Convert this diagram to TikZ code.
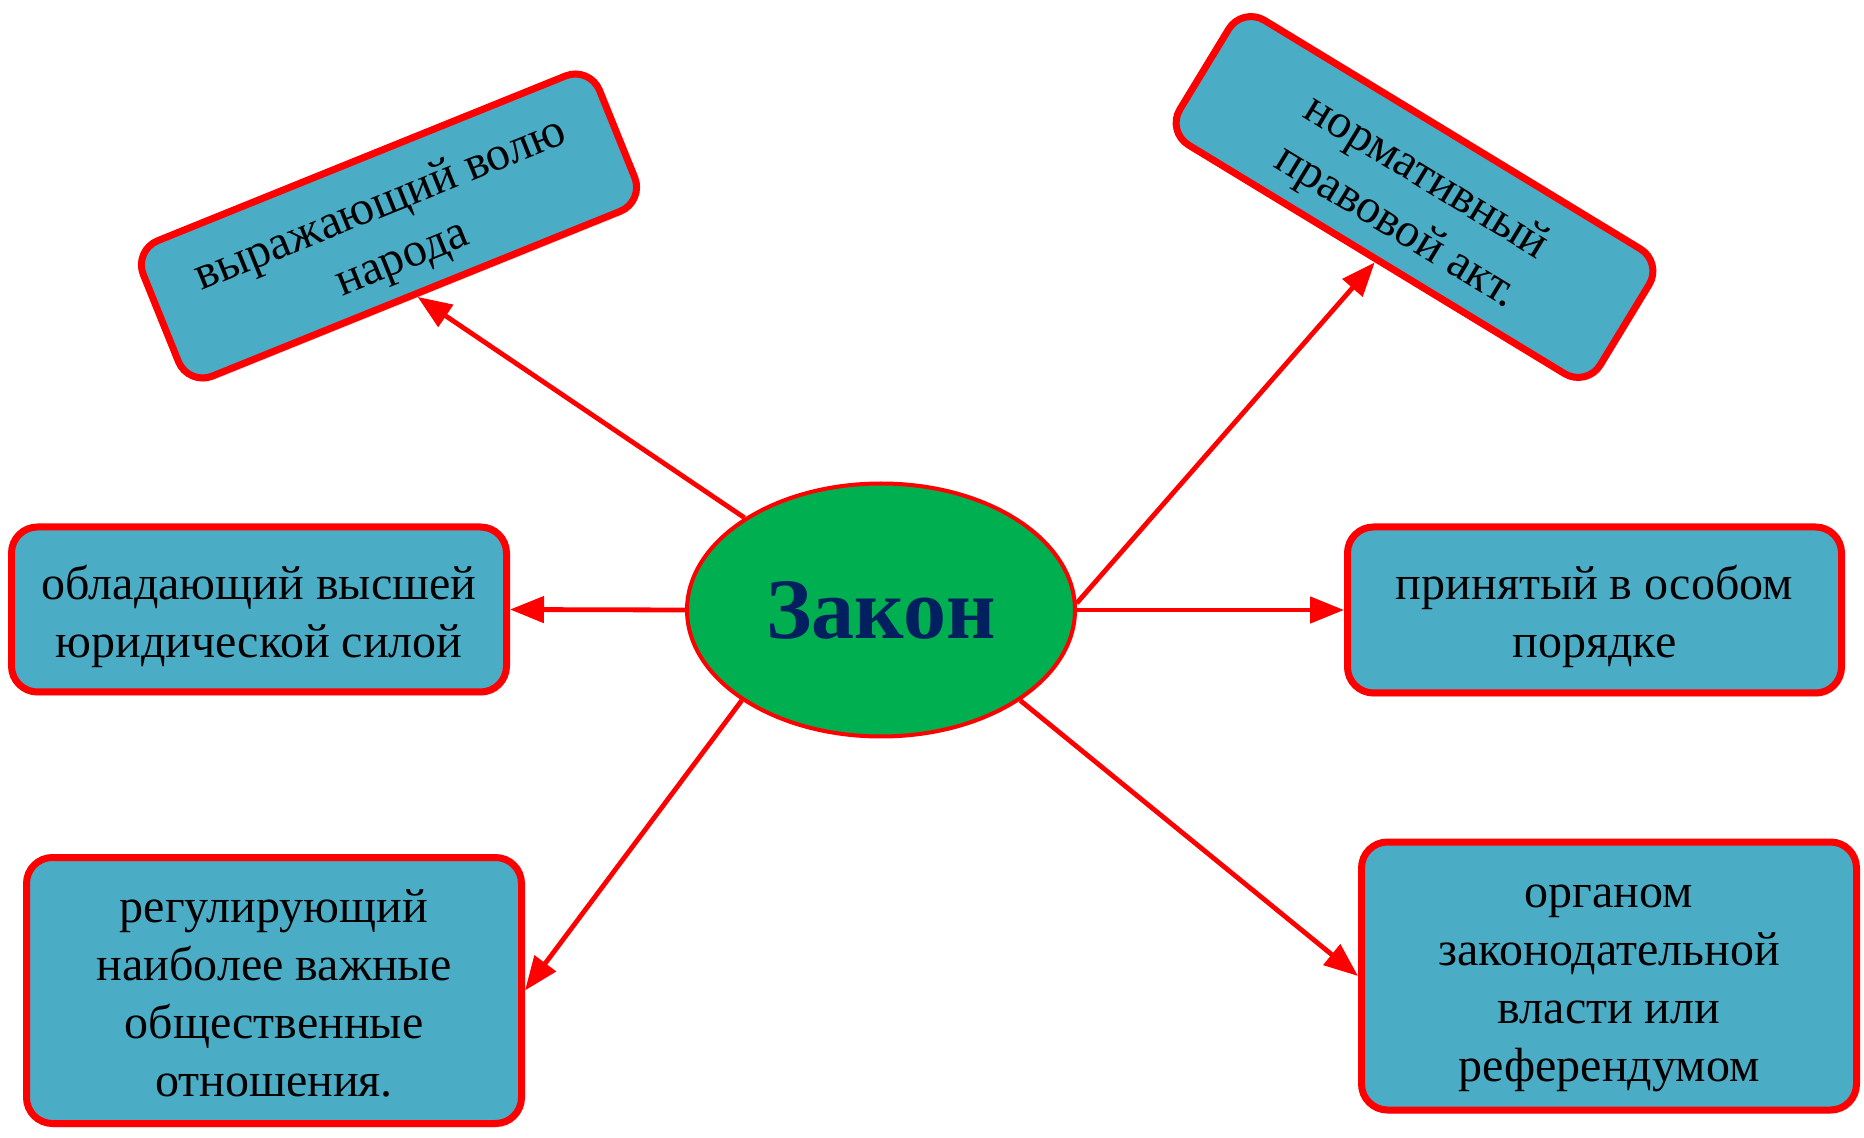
\documentclass[tikz,border=0pt]{standalone}
\usepackage{fontspec}
\setmainfont{Liberation Serif}
\usetikzlibrary{arrows.meta,shadows,shapes.geometric}
\definecolor{boxfill}{HTML}{4BACC6}
\definecolor{ellfill}{HTML}{00B050}
\definecolor{navy}{HTML}{002060}
\newcommand\mytopstrut{\rule{0pt}{27.3pt}}
\begin{document}
\begin{tikzpicture}[x=0.5pt,y=-0.5pt,
  box/.style={draw=red, line width=3.5pt, fill=boxfill, rounded corners=13pt,
    align=center, font=\fontsize{24}{29}\selectfont, inner sep=0pt,
    drop shadow={shadow xshift=1pt, shadow yshift=-2pt, opacity=0.2}},
  conn/.style={draw=red, line width=2.4pt, -{Triangle[length=17pt,width=13pt]}}]
\useasboundingbox (0,0) rectangle (1864,1138);
\node[draw=red, line width=2pt, fill=ellfill, ellipse, inner sep=0pt,
  minimum width=194pt, minimum height=126.5pt,
  font=\fontsize{43}{50}\selectfont\bfseries, text=navy] (zakon) at (881,610) {Закон};
\node[box, minimum width=247.5pt, minimum height=82.5pt] (l) at (259,609.5) {\mytopstrut обладающий высшей\\юридической силой\strut};
\node[box, minimum width=247pt, minimum height=83pt] (r) at (1594.5,610) {\mytopstrut принятый в особом\\порядке\strut};
\node[box, minimum width=247.5pt, minimum height=133pt] (bl) at (274,990.5) {\mytopstrut регулирующий\\наиболее важные\\общественные\\отношения.\strut};
\node[box, minimum width=247.5pt, minimum height=134pt] (br) at (1609,976) {\mytopstrut органом\\законодательной\\власти или\\референдумом\strut};
\node[box, minimum width=246pt, minimum height=73pt, rotate=22] (tl) at (389,226) {\mytopstrut выражающий волю\\народа\strut};
\node[box, minimum width=246pt, minimum height=73pt, rotate=-31.3] (tr) at (1414.5,197) {\mytopstrut нормативный\\правовой акт.\strut};
\draw[conn] (zakon) -- (tl.south);
\draw[conn] (zakon.2) -- (tr.south);
\draw[conn] (zakon.west) -- (l.east);
\draw[conn] (zakon.east) -- (r.west);
\draw[conn] (zakon.213) -- (bl.east);
\draw[conn] (zakon.327) -- (br.west);
\end{tikzpicture}
\end{document}
